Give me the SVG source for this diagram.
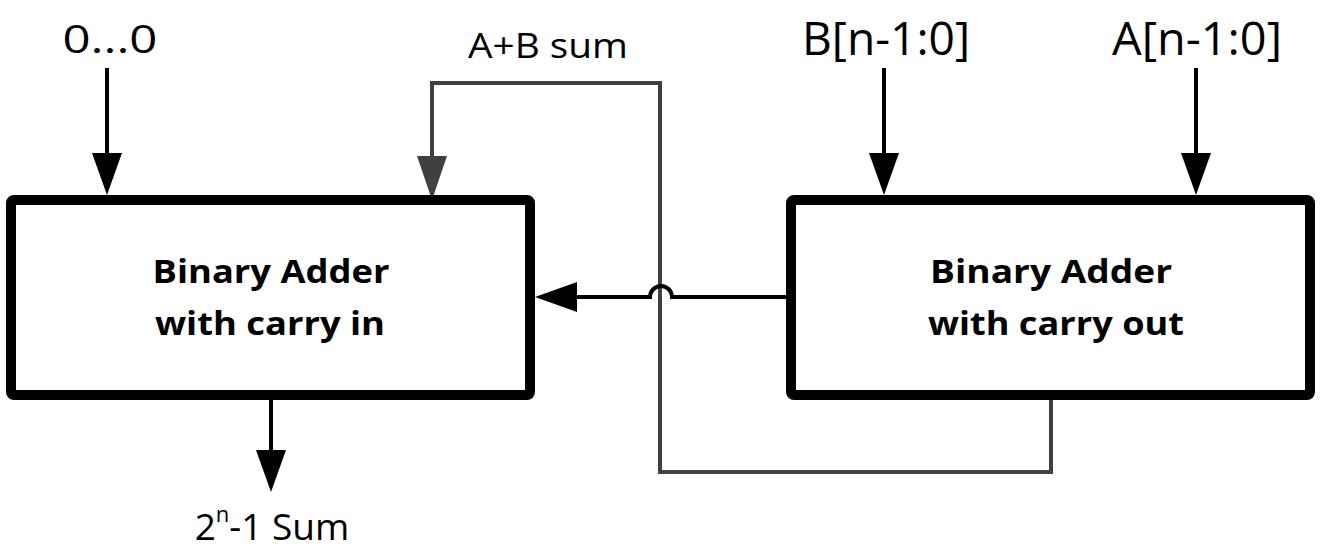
<svg xmlns="http://www.w3.org/2000/svg" width="1323" height="558" viewBox="0 0 1323 558">
<style>
.box{fill:#fff;stroke:#000;stroke-width:10}
.blk{fill:none;stroke:#000;stroke-width:4}
.gry{fill:none;stroke:#404040;stroke-width:4}
.lbl{font-family:"Open Sans","Liberation Sans",sans-serif;fill:#000;text-anchor:middle}
.bold{font-weight:bold;font-size:32px}
</style>
<defs>
<marker id="ab" markerUnits="userSpaceOnUse" markerWidth="42" markerHeight="30" viewBox="0 0 42 30" refX="0" refY="15" orient="auto">
<path d="M0,0 L42,15 L0,30 z" fill="#000"/>
</marker>
<marker id="ag" markerUnits="userSpaceOnUse" markerWidth="44" markerHeight="30" viewBox="0 0 44 30" refX="0" refY="15" orient="auto">
<path d="M0,0 L44,15 L0,30 z" fill="#404040"/>
</marker>
</defs>
<g id="connectors">
<path class="blk" d="M107,68 V153" marker-end="url(#ab)"/>
<path class="blk" d="M884,68 V153" marker-end="url(#ab)"/>
<path class="blk" d="M1196,68 V153" marker-end="url(#ab)"/>
<path class="blk" d="M271,400 V450" marker-end="url(#ab)"/>
<path class="gry" d="M1051,393 V472 H660 V83 H432 V156" marker-end="url(#ag)"/>
<path class="blk" d="M786,297 H672 A11,11 0 0 0 650,297 H577" marker-end="url(#ab)"/>
</g>
<g id="adder-carry-in">
<rect class="box" x="11" y="200" width="519" height="195" rx="3"/>
<text class="lbl bold" x="271" y="283" textLength="237" lengthAdjust="spacingAndGlyphs">Binary Adder</text>
<text class="lbl bold" x="270" y="335" textLength="230" lengthAdjust="spacingAndGlyphs">with carry in</text>
</g>
<g id="adder-carry-out">
<rect class="box" x="791" y="200" width="519" height="195" rx="3"/>
<text class="lbl bold" x="1051" y="283" textLength="242" lengthAdjust="spacingAndGlyphs">Binary Adder</text>
<text class="lbl bold" x="1056" y="335" textLength="256" lengthAdjust="spacingAndGlyphs">with carry out</text>
</g>
<g id="in-zeros">
<text class="lbl" x="110" y="53" font-size="39" textLength="95" lengthAdjust="spacingAndGlyphs">0...0</text>
</g>
<g id="in-b">
<text class="lbl" x="886" y="55" font-size="46" textLength="168" lengthAdjust="spacingAndGlyphs">B[n-1:0]</text>
</g>
<g id="in-a">
<text class="lbl" x="1197" y="55" font-size="46" textLength="170" lengthAdjust="spacingAndGlyphs">A[n-1:0]</text>
</g>
<g id="label-sum-feedback">
<text class="lbl" x="548" y="58" font-size="34" textLength="160" lengthAdjust="spacingAndGlyphs">A+B sum</text>
</g>
<g id="out-sum">
<text class="lbl" x="272" y="540" font-size="37">2<tspan font-size="22" dy="-18">n</tspan><tspan dy="18">-1 Sum</tspan></text>
</g>
</svg>
